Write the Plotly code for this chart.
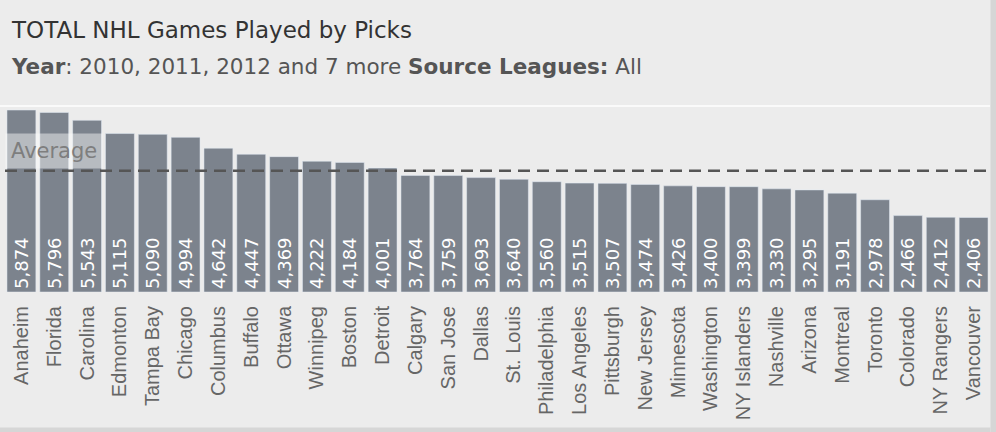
import plotly.graph_objects as go

teams = ["Anaheim", "Florida", "Carolina", "Edmonton", "Tampa Bay", "Chicago", "Columbus",
         "Buffalo", "Ottawa", "Winnipeg", "Boston", "Detroit", "Calgary", "San Jose", "Dallas",
         "St. Louis", "Philadelphia", "Los Angeles", "Pittsburgh", "New Jersey", "Minnesota",
         "Washington", "NY Islanders", "Nashville", "Arizona", "Montreal", "Toronto", "Colorado",
         "NY Rangers", "Vancouver"]
games = [5874, 5796, 5543, 5115, 5090, 4994, 4642, 4447, 4369, 4222, 4184, 4001, 3764, 3759,
         3693, 3640, 3560, 3515, 3507, 3474, 3426, 3400, 3399, 3330, 3295, 3191, 2978, 2466,
         2412, 2406]

avg = sum(games) / len(games)
labels = [f"{v:,}" for v in games]

fig = go.Figure(go.Bar(
    x=teams, y=games,
    marker_color="#7c838d",
    text=labels,
    textposition="inside",
    insidetextanchor="start",
    textangle=-90,
    textfont=dict(color="white", size=18, family="DejaVu Sans"),
    cliponaxis=False,
))

# average reference line
fig.add_hline(y=avg, line_dash="12px,7px", line_color="#555555", line_width=2.5)
fig.add_annotation(x=0, xref="paper", xanchor="left", y=avg, yanchor="bottom", yshift=2,
                   text="Average", showarrow=False, bgcolor="rgba(255,255,255,0.45)",
                   font=dict(size=21, color="#7e7e7e", family="DejaVu Sans"),
                   borderpad=5)

# header texts
fig.add_annotation(x=0.004, xref="paper", xanchor="left", y=1.424, yref="paper", yanchor="middle",
                   text="TOTAL NHL Games Played by Picks", showarrow=False,
                   font=dict(size=23, color="#333333", family="DejaVu Sans"))
fig.add_annotation(x=0.004, xref="paper", xanchor="left", y=1.225, yref="paper", yanchor="middle",
                   text="<b>Year</b>: 2010, 2011, 2012 and 7 more <b>Source Leagues:</b> All",
                   showarrow=False,
                   font=dict(size=21.5, color="#555555", family="DejaVu Sans"))

# separator line under the header, frame on the right and bottom
fig.add_shape(type="line", xref="paper", yref="paper", x0=-0.01, x1=1.0, y0=1.011, y1=1.011,
              line=dict(color="#fafafa", width=2))
fig.add_shape(type="rect", xref="paper", yref="paper", x0=1.0005, x1=1.0065, y0=-0.8, y1=1.7,
              line_width=0, fillcolor="#d6d6d6", layer="below")
fig.add_shape(type="rect", xref="paper", yref="paper", x0=-0.01, x1=1.0005, y0=-0.8, y1=-0.737,
              line_width=0, fillcolor="#d6d6d6", layer="below")

fig.update_layout(
    width=996, height=432,
    margin=dict(l=5, r=6, t=108, b=140, autoexpand=False),
    paper_bgcolor="#ececec",
    plot_bgcolor="#ececec",
    bargap=0.12,
    showlegend=False,
    xaxis=dict(tickangle=-90, tickfont=dict(size=20, color="#666666", family="Liberation Sans"),
               showgrid=False, showline=False, ticks="", ticklabelstandoff=9, automargin=False),
    yaxis=dict(range=[0, 5940], visible=False),
)

fig.write_html("out.html", config={"displayModeBar": False},
               post_script="document.body.style.margin='0';")
